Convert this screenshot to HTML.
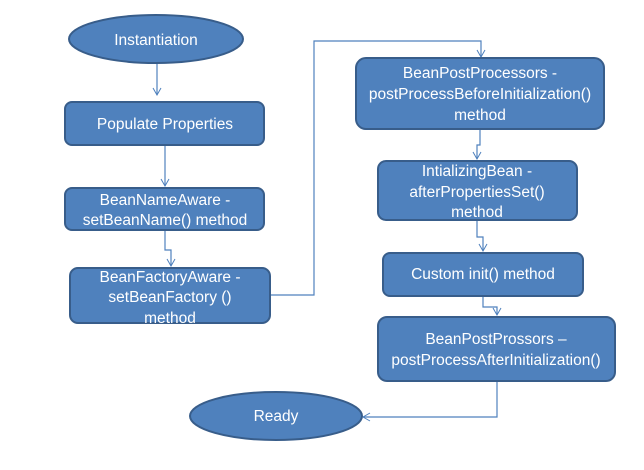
<!DOCTYPE html>
<html><head><style>
body{margin:0;background:#fff;width:644px;height:465px;overflow:hidden;font-family:"Liberation Sans",sans-serif}
</style></head><body>
<svg width="644" height="465" xmlns="http://www.w3.org/2000/svg" font-family="Liberation Sans, sans-serif" font-size="15.5" fill="#fff">
<defs><marker id="a" markerWidth="10" markerHeight="10" refX="8" refY="5" orient="auto" markerUnits="userSpaceOnUse"><path d="M1,1 L8,5 L1,9" fill="none" stroke="#4f81bd" stroke-width="1"/></marker></defs>
<g fill="none" stroke="#4f81bd" stroke-width="1.2">
<path d="M157,63 V95" marker-end="url(#a)"/>
<path d="M165,145 V186" marker-end="url(#a)"/>
<path d="M165,230 V250 H171 V266" marker-end="url(#a)"/>
<path d="M270,295 H314 V41 H481 V57" marker-end="url(#a)"/>
<path d="M480,129 V145 H477 V159" marker-end="url(#a)"/>
<path d="M477,220 V237 H483 V251" marker-end="url(#a)"/>
<path d="M483,296 V307 H497 V315" marker-end="url(#a)"/>
<path d="M497,381 V417 H363" marker-end="url(#a)"/>
</g>
<g fill="#4f81bd" stroke="#385d8a" stroke-width="2">
<ellipse cx="156" cy="39" rx="87" ry="24"/>
<rect x="65" y="102" width="199" height="43" rx="7"/>
<rect x="65" y="188" width="199" height="42" rx="7"/>
<rect x="70" y="268" width="200" height="55" rx="8"/>
<rect x="356" y="58" width="248" height="71" rx="10"/>
<rect x="378" y="161" width="199" height="59" rx="8"/>
<rect x="383" y="253" width="200" height="43" rx="7"/>
<rect x="378" y="317" width="237" height="64" rx="9"/>
<ellipse cx="276" cy="416" rx="86" ry="24"/>
</g>
<g text-anchor="middle">
<text x="156" y="45">Instantiation</text>
<text x="165" y="129">Populate Properties</text>
<text x="165" y="205">BeanNameAware  -</text>
<text x="165" y="225">setBeanName()  method</text>
<text x="170" y="282">BeanFactoryAware  -</text>
<text x="170" y="302">setBeanFactory ()</text>
<text x="170" y="323">method</text>
<text x="480" y="78">BeanPostProcessors  -</text>
<text x="480" y="99">postProcessBeforeInitialization()</text>
<text x="480" y="120">method</text>
<text x="477" y="176">IntializingBean -</text>
<text x="477" y="197">afterPropertiesSet()</text>
<text x="477" y="217">method</text>
<text x="483" y="279">Custom init() method</text>
<text x="496" y="344">BeanPostProssors –</text>
<text x="496" y="365">postProcessAfterInitialization()</text>
<text x="276" y="421">Ready</text>
</g>
</svg>
</body></html>
